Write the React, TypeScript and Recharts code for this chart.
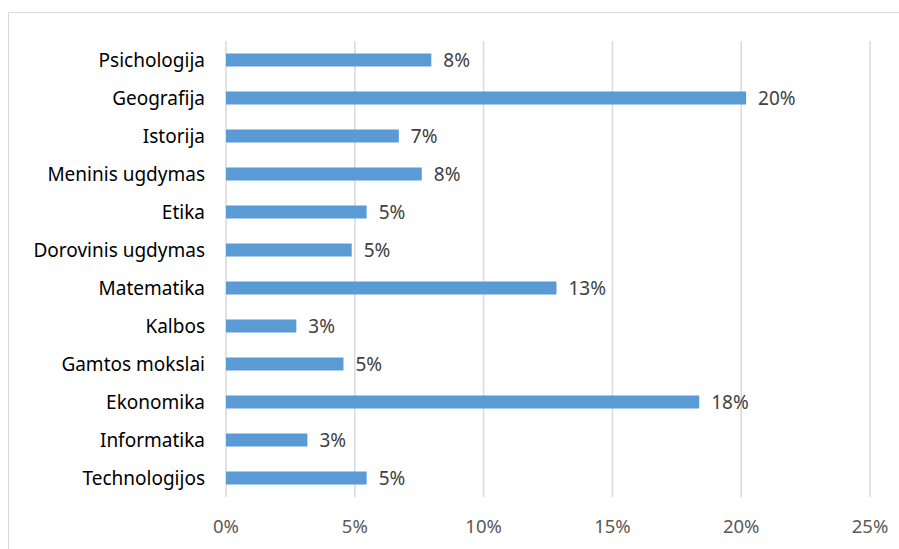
import { BarChart, Bar, XAxis, YAxis, CartesianGrid, LabelList } from 'recharts';

const subjects = [
  'Psichologija',
  'Geografija',
  'Istorija',
  'Meninis ugdymas',
  'Etika',
  'Dorovinis ugdymas',
  'Matematika',
  'Kalbos',
  'Gamtos mokslai',
  'Ekonomika',
  'Informatika',
  'Technologijos',
];

// share of answers, in percent
const shares = [7.97, 20.19, 6.71, 7.6, 5.46, 4.88, 12.83, 2.73, 4.56, 18.37, 3.16, 5.46];

const xTicks = [0, 5, 10, 15, 20, 25];

const data = subjects.map((name, i) => ({ name, value: shares[i] }));

const font = '"Noto Sans", sans-serif';

export default function App() {
  return (
    <div
      style={{
        position: 'absolute',
        left: 8,
        top: 12,
        width: 891,
        height: 537,
        borderLeft: '1px solid #d9d9d9',
        borderTop: '1px solid #d9d9d9',
        boxSizing: 'border-box',
        background: '#fff',
        fontFamily: font,
      }}
    >
      <BarChart
        width={890}
        height={536}
        data={data}
        layout="vertical"
        margin={{ top: 28, right: 29, left: 0, bottom: 0 }}
        barCategoryGap="33%"
      >
        <CartesianGrid horizontal={false} stroke="#d9d9d9" strokeWidth={1.5} />
        <XAxis
          type="number"
          domain={[0, 25]}
          ticks={xTicks}
          tickFormatter={(v: number) => `${v}%`}
          axisLine={false}
          tickLine={false}
          tickSize={0}
          tickMargin={23}
          height={52}
          tick={{ fill: '#595959', fontSize: 18.5, fontFamily: font }}
        />
        <YAxis
          type="category"
          dataKey="name"
          width={217}
          axisLine={false}
          tickLine={false}
          tickSize={0}
          tickMargin={21}
          interval={0}
          tick={{ fill: '#000', fontSize: 19, fontFamily: font }}
        />
        <Bar dataKey="value" fill="#5b9bd5" isAnimationActive={false}>
          <LabelList
            dataKey="value"
            position="right"
            offset={12}
            formatter={(v: number) => `${Math.round(v)}%`}
            style={{ fill: '#404040', fontSize: 19, fontFamily: font }}
          />
        </Bar>
      </BarChart>
    </div>
  );
}
